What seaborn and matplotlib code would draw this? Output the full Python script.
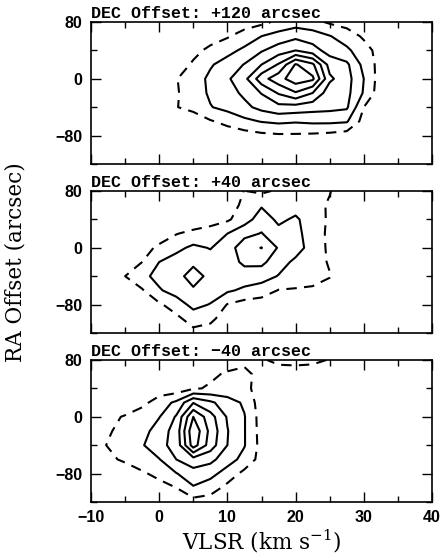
import numpy as np
import matplotlib
matplotlib.use("Agg")
import matplotlib.pyplot as plt
from matplotlib.ticker import MultipleLocator
import seaborn as sns

# grid of the position-velocity maps
velocity = [-10, -7.5, -5, -2.5, 0, 2.5, 5, 7.5, 10, 12.5, 15, 17.5, 20,
            22.5, 25, 27.5, 30, 32.5, 35, 37.5, 40]
ra_offset = [80, 60, 40, 20, 0, -20, -40, -60, -80, -100, -120]

# contour levels: the lowest one is drawn dashed
levels = [1, 2, 3, 4, 5, 6, 7]

panel_titles = ["DEC Offset: +120 arcsec",
                "DEC Offset: +40 arcsec",
                "DEC Offset: \u221240 arcsec"]

dec_p120 = [
    [0, 0, 0, 0, 0, 0, 0, 0.1, 0.3, 0.5, 0.75, 1.2, 1.5, 1.3, 0.85, 0.6, 0.3, 0.1, 0, 0, 0],
    [0, 0, 0, 0, 0, 0, 0.2, 0.55, 0.9, 1.45, 2.0, 2.4, 2.75, 2.5, 2.05, 1.5, 0.85, 0.4, 0.1, 0, 0],
    [0, 0, 0, 0, 0, 0.1, 0.7, 1.25, 1.7, 2.2, 2.9, 3.5, 4.0, 3.4, 2.6, 2.2, 1.4, 0.6, 0.2, 0, 0],
    [0, 0, 0, 0, 0, 0.45, 1.15, 1.9, 2.4, 3.05, 4.0, 5.1, 7.1, 6.2, 3.6, 3.2, 1.7, 0.6, 0.1, 0, 0],
    [0, 0, 0, 0, 0.3, 0.95, 1.55, 2.2, 2.85, 3.7, 5.6, 6.6, 7.6, 7.2, 4.2, 3.4, 2.0, 0.5, 0.1, 0, 0],
    [0, 0, 0, 0, 0.1, 0.9, 1.5, 2.15, 2.6, 3.2, 4.05, 5.1, 5.9, 5.0, 3.4, 3.3, 1.9, 0.4, 0.1, 0, 0],
    [0, 0, 0, 0, 0.15, 0.95, 1.4, 1.95, 2.3, 2.75, 3.3, 3.7, 3.6, 3.4, 3.3, 3.15, 1.0, 0.2, 0, 0, 0],
    [0, 0, 0, 0, 0, 0, 0.2, 0.9, 1.3, 1.75, 2.05, 2.2, 2.1, 2.2, 2.2, 2.1, 0.6, 0, 0, 0, 0],
    [0, 0, 0, 0, 0, 0, 0, 0.2, 0.4, 0.55, 0.75, 0.85, 0.85, 0.8, 0.7, 0.5, 0.1, 0, 0, 0, 0],
    [0] * 21,
    [0] * 21,
]

dec_p40 = [
    [0, 0, 0, 0, 0, 0, 0, 0.3, 0.6, 1.02, 0.8, 1.15, 1.1, 1.15, 1.05, 0.4, 0, 0, 0, 0, 0],
    [0, 0, 0, 0, 0, 0, 0, 0.2, 0.6, 1.2, 1.9, 1.85, 1.6, 1.3, 0.9, 0.3, 0, 0, 0, 0, 0],
    [0, 0, 0, 0, 0, 0, 0.2, 0.45, 0.85, 1.55, 2.5, 1.8, 2.15, 1.5, 0.85, 0.3, 0, 0, 0, 0, 0],
    [0, 0, 0, 0, 0.45, 0.95, 1.3, 1.6, 2.0, 2.7, 3.05, 2.3, 2.3, 1.5, 0.8, 0.2, 0, 0, 0, 0, 0],
    [0, 0, 0, 0.6, 1.2, 1.75, 2.2, 1.95, 2.5, 3.6, 4.03, 2.9, 2.4, 1.6, 0.8, 0.2, 0, 0, 0, 0, 0],
    [0, 0, 0.35, 1.0, 2.0, 2.4, 2.85, 2.4, 2.55, 3.2, 3.25, 2.4, 1.8, 1.45, 0.9, 0.2, 0, 0, 0, 0, 0],
    [0, 0.1, 1.0, 1.75, 2.3, 2.75, 3.3, 2.8, 2.5, 2.55, 2.4, 1.95, 1.55, 1.35, 1.05, 0.3, 0, 0, 0, 0, 0],
    [0, 0, 0.3, 0.9, 1.9, 2.4, 2.9, 2.5, 2.15, 1.8, 1.55, 0.95, 0.9, 0.85, 0.6, 0.1, 0, 0, 0, 0, 0],
    [0, 0, 0, 0.2, 0.85, 1.5, 2.3, 1.95, 0.95, 0.6, 0.45, 0.3, 0.2, 0.1, 0, 0, 0, 0, 0, 0, 0],
    [0, 0, 0, 0, 0.3, 0.75, 1.45, 1.2, 0.55, 0.2, 0, 0, 0, 0, 0, 0, 0, 0, 0, 0, 0],
    [0, 0, 0, 0, 0, 0.3, 0.7, 0.6, 0.2, 0, 0, 0, 0, 0, 0, 0, 0, 0, 0, 0, 0],
]

dec_m40 = [
    [0, 0, 0, 0, 0, 0, 0.1, 0.3, 0.6, 0.8, 0.9, 1.2, 1.25, 1.2, 0.95, 0.4, 0, 0, 0, 0, 0],
    [0, 0, 0, 0, 0.2, 0.35, 0.55, 0.85, 1.1, 1.2, 0.75, 0.6, 0.6, 0.55, 0.4, 0.1, 0, 0, 0, 0, 0],
    [0, 0, 0, 0.2, 0.4, 0.4, 0.9, 1.1, 1.3, 1.25, 0.6, 0.3, 0.2, 0.1, 0, 0, 0, 0, 0, 0, 0],
    [0, 0, 0.2, 0.7, 1.5, 2.2, 3.95, 3.2, 2.45, 1.85, 0.45, 0.3, 0.1, 0, 0, 0, 0, 0, 0, 0, 0],
    [0.3, 0.7, 1.1, 1.6, 1.95, 3.1, 6.0, 4.4, 2.9, 2.05, 0.55, 0.2, 0, 0, 0, 0, 0, 0, 0, 0, 0],
    [0.5, 0.9, 1.3, 1.6, 2.5, 3.4, 6.8, 4.7, 3.05, 2.05, 0.6, 0.2, 0, 0, 0, 0, 0, 0, 0, 0, 0],
    [0.6, 1.05, 1.45, 1.9, 2.75, 3.3, 6.5, 4.5, 3.0, 2.05, 0.65, 0.2, 0, 0, 0, 0, 0, 0, 0, 0, 0],
    [0.3, 0.75, 1.2, 1.6, 1.95, 3.0, 3.6, 3.3, 2.4, 1.7, 0.6, 0.2, 0, 0, 0, 0, 0, 0, 0, 0, 0],
    [0, 0, 0.3, 0.85, 1.3, 1.95, 2.6, 2.3, 1.6, 0.7, 0.2, 0, 0, 0, 0, 0, 0, 0, 0, 0, 0],
    [0, 0, 0, 0.2, 0.6, 1.0, 1.9, 1.5, 0.7, 0.3, 0, 0, 0, 0, 0, 0, 0, 0, 0, 0, 0],
    [0, 0, 0, 0, 0.2, 0.4, 0.6, 0.5, 0.2, 0, 0, 0, 0, 0, 0, 0, 0, 0, 0, 0, 0],
]

panels = [dec_p120, dec_p40, dec_m40]

sns.set_theme(style="ticks")
plt.rcParams["font.family"] = ["DejaVu Sans"]
plt.rcParams["mathtext.fontset"] = "dejavuserif"

fig = plt.figure(figsize=(4.45, 5.60), dpi=100)

W, H = 445.0, 560.0
left, width, height = 91 / W, 341 / W, 142 / H
tops = [22, 191, 360]

styles = [(0, (5, 3.5))] + ["solid"] * (len(levels) - 1)

axes = []
for i, (grid, title) in enumerate(zip(panels, panel_titles)):
    ax = fig.add_axes([left, 1 - (tops[i] + 142) / H, width, height])
    ax.contour(velocity, ra_offset, np.array(grid), levels=levels,
               colors="black", linewidths=1.5, linestyles=styles)
    ax.set_xlim(-10, 40)
    ax.set_ylim(-120, 80)

    ax.xaxis.set_major_locator(MultipleLocator(10))
    ax.xaxis.set_minor_locator(MultipleLocator(5))
    ax.yaxis.set_major_locator(MultipleLocator(80))
    ax.yaxis.set_minor_locator(MultipleLocator(40))
    ax.tick_params(which="both", direction="in", top=True, right=True,
                   color="black", width=1.0, pad=6)
    ax.tick_params(which="major", length=7)
    ax.tick_params(which="minor", length=4)
    for sp in ax.spines.values():
        sp.set_linewidth(1.2)
        sp.set_color("black")

    for lab in ax.get_yticklabels() + ax.get_xticklabels():
        lab.set_fontfamily("Liberation Sans")
        lab.set_fontweight("bold")
        lab.set_fontsize(11.5)
        lab.set_color("black")
    if i < 2:
        ax.tick_params(labelbottom=False)

    ax.text(0.0, 1.03, title, transform=ax.transAxes, ha="left",
            va="baseline", family="Liberation Mono", weight="bold",
            fontsize=12, color="black")
    axes.append(ax)

axes[1].set_ylabel("RA Offset (arcsec)", family="DejaVu Serif",
                   fontsize=15.5, color="black")
axes[1].yaxis.set_label_coords(-0.19, 0.5)

axes[2].set_xlabel(r"VLSR (km s$^{-1}$)", family="DejaVu Serif",
                   fontsize=15.5, color="black")
axes[2].xaxis.set_label_coords(0.5, -0.18)

fig.savefig("out.png", dpi=100, facecolor="white")
